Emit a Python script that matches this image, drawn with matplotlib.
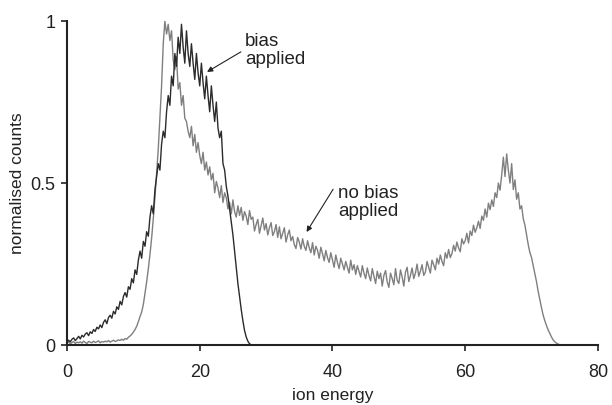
import numpy as np
import matplotlib
matplotlib.use("Agg")
import matplotlib.pyplot as plt

plt.rcParams['font.family'] = ['Liberation Sans', 'DejaVu Sans']

step = 0.25

# bias applied, 0 .. 28 eV (8 values = 2 eV per row)
bias_counts = [
    0.008, 0.015, 0.010, 0.018, 0.022, 0.014, 0.020, 0.027,
    0.019, 0.030, 0.025, 0.034, 0.038, 0.029, 0.041, 0.036,
    0.048, 0.042, 0.055, 0.050, 0.062, 0.054, 0.070, 0.078,
    0.066, 0.085, 0.092, 0.083, 0.104, 0.096, 0.118, 0.110,
    0.135, 0.124, 0.150, 0.162, 0.148, 0.180, 0.172, 0.205,
    0.192, 0.232, 0.218, 0.262, 0.290, 0.268, 0.320, 0.305,
    0.350, 0.336, 0.395, 0.430, 0.405, 0.480, 0.520, 0.560,
    0.540, 0.620, 0.660, 0.640, 0.720, 0.770, 0.740, 0.830,
    0.800, 0.900, 0.860, 0.950, 0.900, 0.990, 0.920, 0.870,
    0.970, 0.900, 0.860, 0.930, 0.870, 0.820, 0.900, 0.840,
    0.800, 0.870, 0.810, 0.760, 0.830, 0.770, 0.720, 0.800,
    0.740, 0.690, 0.750, 0.670, 0.640, 0.660, 0.560, 0.540,
    0.490, 0.460, 0.420, 0.380, 0.340, 0.290, 0.240, 0.190,
    0.150, 0.110, 0.075, 0.045, 0.025, 0.012, 0.004, 0.001,
    0.000,
]

# no bias applied, 0 .. 74.75 eV (8 values = 2 eV per row)
nobias_counts = [
    0.006, 0.010, 0.004, 0.008, 0.011, 0.005, 0.009, 0.007,
    0.010, 0.006, 0.012, 0.008, 0.005, 0.011, 0.009, 0.007,
    0.012, 0.008, 0.010, 0.013, 0.007, 0.011, 0.009, 0.012,
    0.010, 0.014, 0.009, 0.012, 0.015, 0.011, 0.013, 0.016,
    0.014, 0.018, 0.015, 0.020, 0.018, 0.024, 0.028, 0.033,
    0.040, 0.048, 0.058, 0.072, 0.088, 0.102, 0.125, 0.160,
    0.195, 0.235, 0.280, 0.330, 0.390, 0.455, 0.530, 0.605,
    0.700, 0.800, 0.930, 1.000, 0.960, 0.990, 0.940, 0.970,
    0.880, 0.850, 0.890, 0.790, 0.810, 0.740, 0.770, 0.700,
    0.690, 0.660, 0.640, 0.675, 0.615, 0.650, 0.595, 0.625,
    0.585, 0.560, 0.595, 0.540, 0.565, 0.525, 0.550, 0.510,
    0.530, 0.470, 0.505, 0.485, 0.455, 0.492, 0.440, 0.470,
    0.455, 0.420, 0.440, 0.405, 0.448, 0.412, 0.395, 0.430,
    0.400, 0.425, 0.385, 0.412, 0.398, 0.372, 0.415, 0.388,
    0.395, 0.352, 0.372, 0.388, 0.345, 0.368, 0.392, 0.355,
    0.375, 0.340, 0.362, 0.378, 0.338, 0.350, 0.372, 0.332,
    0.365, 0.328, 0.345, 0.362, 0.318, 0.340, 0.355, 0.322,
    0.335, 0.310, 0.298, 0.332, 0.318, 0.296, 0.328, 0.305,
    0.292, 0.322, 0.300, 0.285, 0.316, 0.278, 0.305, 0.292,
    0.268, 0.302, 0.282, 0.260, 0.292, 0.270, 0.255, 0.285,
    0.262, 0.240, 0.278, 0.255, 0.236, 0.268, 0.250, 0.232,
    0.258, 0.240, 0.222, 0.262, 0.232, 0.248, 0.218, 0.245,
    0.228, 0.210, 0.245, 0.222, 0.205, 0.238, 0.215, 0.198,
    0.236, 0.212, 0.190, 0.228, 0.205, 0.222, 0.182, 0.215,
    0.230, 0.195, 0.178, 0.222, 0.205, 0.186, 0.236, 0.200,
    0.190, 0.232, 0.210, 0.182, 0.225, 0.240, 0.196, 0.215,
    0.238, 0.205, 0.222, 0.250, 0.212, 0.228, 0.248, 0.215,
    0.225, 0.258, 0.240, 0.222, 0.262, 0.248, 0.232, 0.268,
    0.250, 0.278, 0.258, 0.245, 0.285, 0.268, 0.295, 0.270,
    0.282, 0.308, 0.290, 0.318, 0.300, 0.288, 0.328, 0.312,
    0.322, 0.345, 0.315, 0.352, 0.338, 0.370, 0.348, 0.362,
    0.382, 0.360, 0.398, 0.385, 0.420, 0.395, 0.438, 0.418,
    0.448, 0.428, 0.470, 0.455, 0.500, 0.478, 0.525, 0.580,
    0.520, 0.590, 0.540, 0.500, 0.560, 0.480, 0.510, 0.450,
    0.470, 0.420, 0.430, 0.390, 0.370, 0.340, 0.310, 0.285,
    0.270, 0.245, 0.220, 0.195, 0.165, 0.140, 0.115, 0.092,
    0.075, 0.060, 0.047, 0.036, 0.025, 0.016, 0.010, 0.006,
    0.003, 0.001, 0.000, 0.000,
]

x_ticks = [0, 20, 40, 60, 80]
y_ticks = [0, 0.5, 1]
y_tick_labels = ['0', '0.5', '1']

bias_e = np.arange(len(bias_counts)) * step
nobias_e = np.arange(len(nobias_counts)) * step

ink = '#222222'

fig = plt.figure(figsize=(6.12, 4.05), dpi=100, facecolor='white')
ax = fig.add_axes([0.1095, 0.148, 0.8675, 0.80])

ax.plot(nobias_e, nobias_counts, color='#7f7f7f', linewidth=1.0)
ax.plot(bias_e, bias_counts, color='#2b2b2b', linewidth=1.0)

ax.set_xlim(0, 80)
ax.set_ylim(0, 1)
ax.set_xticks(x_ticks)
ax.set_yticks(y_ticks)
ax.set_yticklabels(y_tick_labels)

for side in ['top', 'right']:
    ax.spines[side].set_visible(False)
for side in ['left', 'bottom']:
    ax.spines[side].set_linewidth(1.5)
    ax.spines[side].set_color(ink)

ax.tick_params(direction='out', length=4.5, width=1.2, labelsize=13,
               colors=ink)
ax.tick_params(axis='x', pad=9)
ax.tick_params(axis='y', pad=4)

ax.set_xlabel('ion energy', fontsize=12.5, color=ink, labelpad=5)
ax.set_ylabel('normalised counts', fontsize=12.5, color=ink, labelpad=4)

# labels with arrows pointing at the curves
arrow = dict(arrowstyle='-|>', color=ink, lw=0.8, mutation_scale=8,
             shrinkA=0, shrinkB=0)
ax.text(26.8, 0.91, 'bias\napplied', fontsize=13.5, color=ink,
        ha='left', va='center', linespacing=1.05)
ax.annotate('', xy=(21.1, 0.843), xytext=(26.2, 0.905), arrowprops=arrow)
ax.text(40.8, 0.44, 'no bias\napplied', fontsize=13.5, color=ink,
        ha='left', va='center', linespacing=1.05)
ax.annotate('', xy=(36.1, 0.349), xytext=(40.1, 0.481), arrowprops=arrow)

plt.savefig('out.png', dpi=100, facecolor='white')
plt.close(fig)
